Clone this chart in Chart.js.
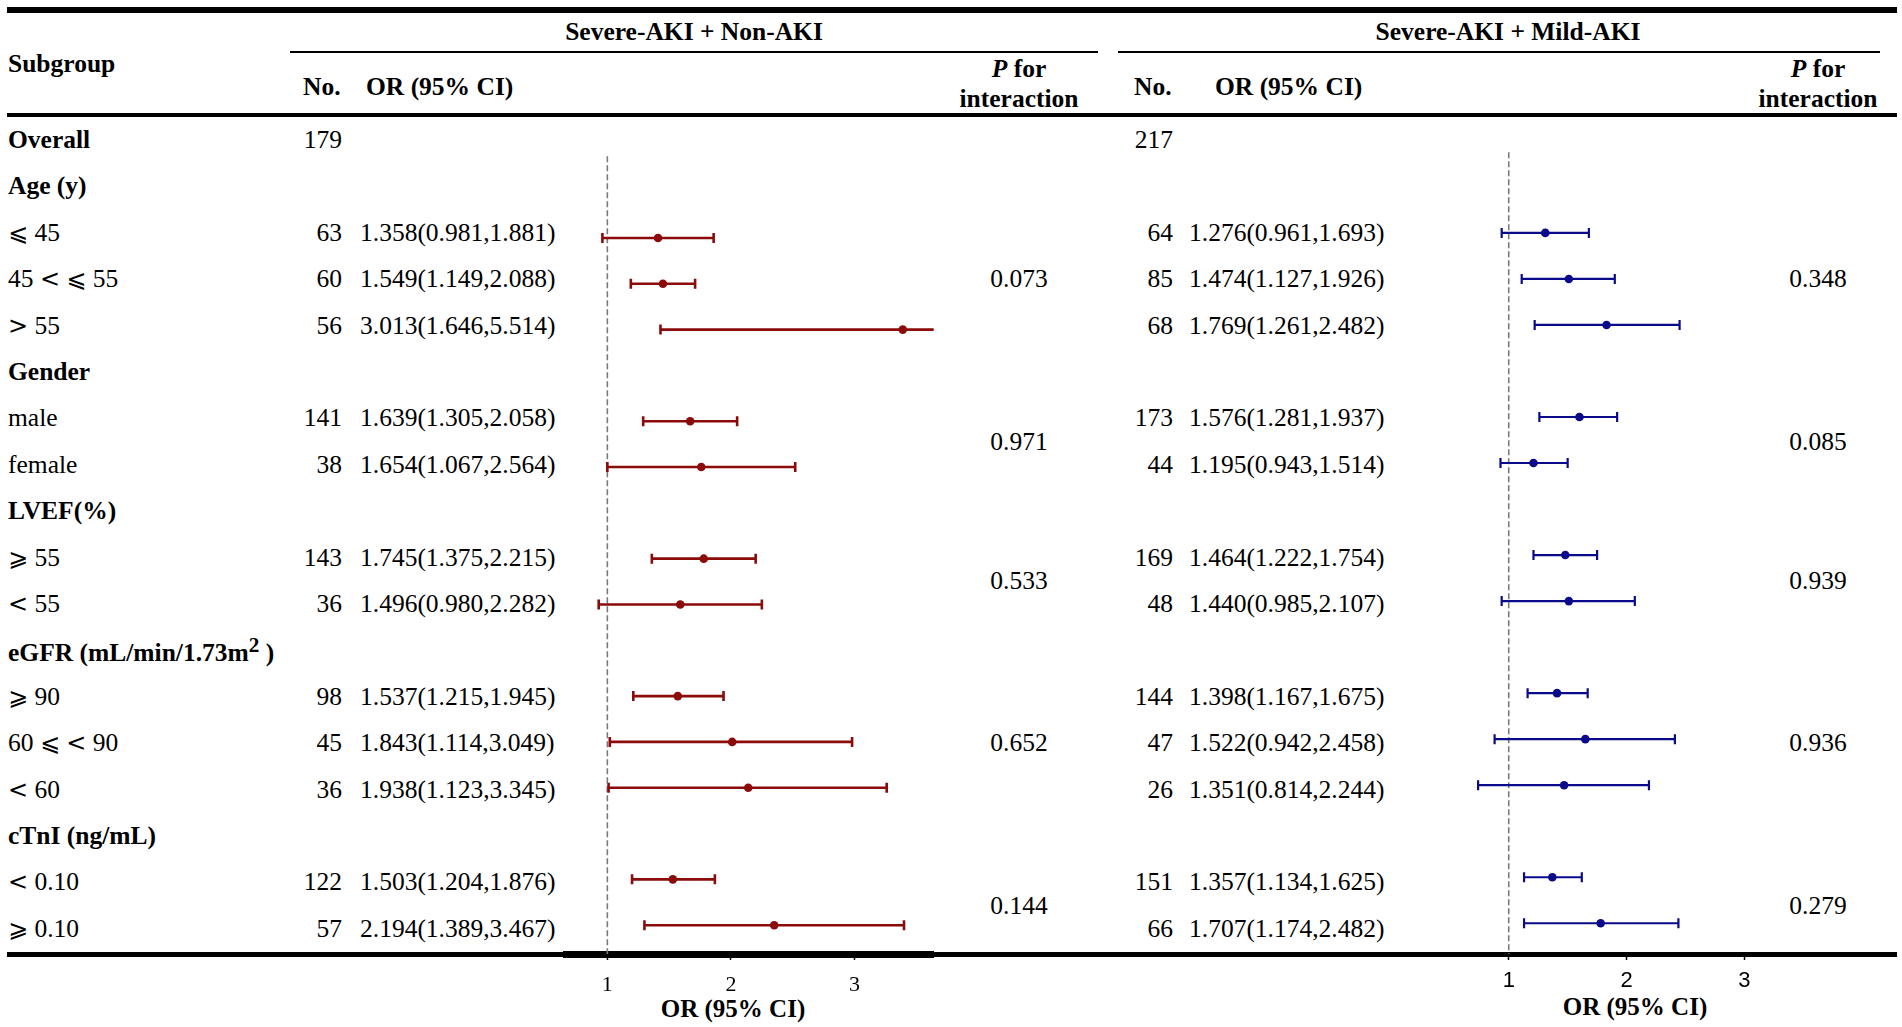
<!DOCTYPE html>
<html>
<head>
<meta charset="utf-8">
<title>Subgroup analysis: Severe-AKI vs Non-AKI and Mild-AKI</title>
<script src="https://cdn.jsdelivr.net/npm/chart.js@4.4.1/dist/chart.umd.min.js"></script>
<style>
  html, body { margin: 0; padding: 0; background: #fff; }
  #page { position: relative; width: 1902px; height: 1027px; overflow: hidden;
          font-family: "Liberation Serif", "Times New Roman", serif; color: #000; }
  .t { position: absolute; white-space: nowrap; line-height: 1; font-size: 25.5px; }
  .b { font-weight: bold; }
  .sym { font-family: "DejaVu Sans", sans-serif; font-size: 24px; }
  .rule { position: absolute; background: #000; }
  canvas { position: absolute; }
</style>
</head>
<body>
<div id="page"></div>
<script>
// table rows, top to bottom (^2 = superscript)
var subgroups = ['Overall', 'Age (y)', '⩽ 45', '45 < ⩽ 55', '> 55', 'Gender', 'male', 'female',
  'LVEF(%)', '⩾ 55', '< 55', 'eGFR (mL/min/1.73m^2 )', '⩾ 90', '60 ⩽ < 90', '< 60',
  'cTnI (ng/mL)', '< 0.10', '⩾ 0.10'];
var headerRows = [0, 1, 5, 8, 11, 15];

var nonAkiN = ['179', '', '63', '60', '56', '', '141', '38', '', '143', '36', '', '98', '45', '36', '', '122', '57'];
var nonAkiOR = ['', '', '1.358(0.981,1.881)', '1.549(1.149,2.088)', '3.013(1.646,5.514)', '',
  '1.639(1.305,2.058)', '1.654(1.067,2.564)', '', '1.745(1.375,2.215)', '1.496(0.980,2.282)', '',
  '1.537(1.215,1.945)', '1.843(1.114,3.049)', '1.938(1.123,3.345)', '', '1.503(1.204,1.876)', '2.194(1.389,3.467)'];
var mildAkiN = ['217', '', '64', '85', '68', '', '173', '44', '', '169', '48', '', '144', '47', '26', '', '151', '66'];
var mildAkiOR = ['', '', '1.276(0.961,1.693)', '1.474(1.127,1.926)', '1.769(1.261,2.482)', '',
  '1.576(1.281,1.937)', '1.195(0.943,1.514)', '', '1.464(1.222,1.754)', '1.440(0.985,2.107)', '',
  '1.398(1.167,1.675)', '1.522(0.942,2.458)', '1.351(0.814,2.244)', '', '1.357(1.134,1.625)', '1.707(1.174,2.482)'];

// P for interaction, one per group, at the group's middle row
var pRows = [3, 6.5, 9.5, 13, 16.5];
var nonAkiP = ['0.073', '0.971', '0.533', '0.652', '0.144'];
var mildAkiP = ['0.348', '0.085', '0.939', '0.936', '0.279'];

// plotted marks
var plotRows = [2, 3, 4, 6, 7, 9, 10, 12, 13, 14, 16, 17];
var nonAkiPt = [1.41, 1.45, 3.39, 1.67, 1.76, 1.78, 1.59, 1.57, 2.01, 2.14, 1.53, 2.35];
var nonAkiLo = [0.96, 1.19, 1.43, 1.29, 1.00, 1.36, 0.93, 1.21, 1.02, 1.01, 1.20, 1.30];
var nonAkiHi = [1.86, 1.71, 5.51, 2.05, 2.52, 2.20, 2.25, 1.94, 2.98, 3.26, 1.87, 3.40];
var mildAkiPt = [1.31, 1.51, 1.83, 1.60, 1.21, 1.48, 1.51, 1.41, 1.65, 1.47, 1.37, 1.78];
var mildAkiLo = [0.94, 1.11, 1.22, 1.26, 0.93, 1.21, 0.94, 1.16, 0.88, 0.74, 1.13, 1.13];
var mildAkiHi = [1.68, 1.90, 2.45, 1.92, 1.50, 1.75, 2.07, 1.67, 2.41, 2.19, 1.62, 2.44];
var axisTicks = [1, 2, 3];

var page = document.getElementById('page');
var ROW0 = 140, ROWSTEP = 46.4;   // text rows
function rowY(i) { return ROW0 + ROWSTEP * i; }

function esc(s) {
  return s.replace(/&/g, '&amp;').replace(/</g, '&lt;').replace(/>/g, '&gt;');
}
// comparison signs are wider in the original, take them from DejaVu
function labelHtml(s) {
  return esc(s)
    .replace(/&lt;|&gt;|⩽|⩾/g, function (m) { return '<span class="sym">' + m + '</span>'; })
    .replace(/\^(\w)/g, '<sup>$1</sup>');
}

function text(html, x, y, align, bold, size) {
  var d = document.createElement('div');
  d.className = 't' + (bold ? ' b' : '');
  d.innerHTML = html;
  d.style.left = x + 'px';
  d.style.top = y + 'px';
  if (size) d.style.fontSize = size + 'px';
  var tx = align === 'right' ? '-100%' : align === 'center' ? '-50%' : '0';
  d.style.transform = 'translate(' + tx + ',-50%)';
  page.appendChild(d);
}
function rule(x0, x1, y, h) {
  var d = document.createElement('div');
  d.className = 'rule';
  d.style.left = x0 + 'px';
  d.style.width = (x1 - x0) + 'px';
  d.style.top = (y - h / 2) + 'px';
  d.style.height = h + 'px';
  page.appendChild(d);
}

// table frame
rule(7, 1897, 10, 6);
rule(290, 1098, 52, 2);
rule(1118, 1880, 52, 2);
rule(7, 1897, 115, 3.5);
rule(7, 1897, 954.5, 5);

// header
text('Severe-AKI + Non-AKI', 694, 32, 'center', true);
text('Severe-AKI + Mild-AKI', 1508, 32, 'center', true);
text('Subgroup', 8, 64, 'left', true);
text('No.', 303, 87, 'left', true);
text('OR (95% CI)', 366, 87, 'left', true);
text('<i>P</i> for', 1019, 69, 'center', true);
text('interaction', 1019, 99, 'center', true);
text('No.', 1134, 87, 'left', true);
text('OR (95% CI)', 1215, 87, 'left', true);
text('<i>P</i> for', 1818, 69, 'center', true);
text('interaction', 1818, 99, 'center', true);

// body
subgroups.forEach(function (s, i) {
  var y = rowY(i);
  text(labelHtml(s), 8, y, 'left', headerRows.indexOf(i) >= 0);
  if (nonAkiN[i]) text(nonAkiN[i], 342, y, 'right');
  if (nonAkiOR[i]) text(nonAkiOR[i], 360, y, 'left');
  if (mildAkiN[i]) text(mildAkiN[i], 1173, y, 'right');
  if (mildAkiOR[i]) text(mildAkiOR[i], 1189, y, 'left');
});
pRows.forEach(function (r, k) {
  text(nonAkiP[k], 1019, rowY(r), 'center');
  text(mildAkiP[k], 1818, rowY(r), 'center');
});

// axis titles under each plot
text('OR (95% CI)', 733, 1008, 'center', true, 25);
text('OR (95% CI)', 1635, 1006, 'center', true, 25);

// dashed line at OR = 1
var refLine = {
  id: 'refLine',
  beforeDatasetsDraw: function (chart, args, o) {
    var ctx = chart.ctx, area = chart.chartArea;
    var x = chart.scales.x.getPixelForValue(o.value);
    ctx.save();
    ctx.strokeStyle = '#7a7a7a';
    ctx.lineWidth = 1.6;
    ctx.setLineDash([6, 3]);
    ctx.beginPath();
    ctx.moveTo(x, area.top);
    ctx.lineTo(x, area.bottom);
    ctx.stroke();
    ctx.restore();
  }
};

// confidence interval whiskers with end caps
var ciWhiskers = {
  id: 'ciWhiskers',
  beforeDatasetsDraw: function (chart, args, o) {
    var ctx = chart.ctx, xs = chart.scales.x, ys = chart.scales.y, area = chart.chartArea;
    ctx.save();
    ctx.beginPath();
    ctx.rect(area.left, area.top, area.right - area.left, area.bottom - area.top);
    ctx.clip();
    ctx.strokeStyle = o.color;
    ctx.lineWidth = o.width;
    for (var i = 0; i < o.rows.length; i++) {
      var y = ys.getPixelForValue(o.rows[i]);
      ctx.beginPath();
      ctx.moveTo(xs.getPixelForValue(o.lo[i]), y);
      ctx.lineTo(xs.getPixelForValue(o.hi[i]), y);
      // no cap where the interval runs past the axis
      [o.lo[i], o.hi[i]].forEach(function (v) {
        if (v < xs.min || v > xs.max) return;
        var x = xs.getPixelForValue(v);
        ctx.moveTo(x, y - o.cap);
        ctx.lineTo(x, y + o.cap);
      });
      ctx.stroke();
    }
    ctx.restore();
  }
};

var AXIS_Y = 954, AXIS_H = 1027 - AXIS_Y;

function forest(cfg) {
  var c = document.createElement('canvas');
  var w = cfg.right - cfg.left, h = 1027 - cfg.top;
  c.width = w; c.height = h;
  c.style.left = cfg.left + 'px';
  c.style.top = cfg.top + 'px';
  c.style.width = w + 'px';
  c.style.height = h + 'px';
  page.appendChild(c);

  // value range so that x=1 and the rows land where they should
  var xMin = 1 - (cfg.one - cfg.left) / cfg.unit;
  var xMax = xMin + w / cfg.unit;
  var yMin = (cfg.top - cfg.row0) / cfg.step;
  var yMax = (AXIS_Y - cfg.row0) / cfg.step;

  new Chart(c, {
    type: 'scatter',
    data: {
      datasets: [{
        data: plotRows.map(function (r, i) { return { x: cfg.pt[i], y: r }; }),
        pointRadius: 4.3,
        pointHoverRadius: 4.3,
        pointBorderWidth: 0,
        pointBackgroundColor: cfg.color
      }]
    },
    options: {
      responsive: false,
      animation: false,
      events: [],
      layout: { padding: 0 },
      plugins: {
        legend: { display: false },
        tooltip: { enabled: false },
        refLine: { value: 1 },
        ciWhiskers: { rows: plotRows, lo: cfg.lo, hi: cfg.hi, color: cfg.color, width: cfg.lineWidth, cap: 5 }
      },
      scales: {
        x: {
          type: 'linear',
          min: xMin,
          max: xMax,
          afterBuildTicks: function (s) { s.ticks = axisTicks.map(function (v) { return { value: v }; }); },
          afterFit: function (s) { s.height = AXIS_H; },
          grid: { display: true, drawOnChartArea: false, drawTicks: true, tickLength: 6, tickColor: '#000', tickWidth: 1.5 },
          border: { display: true, color: '#000', width: cfg.axisWidth },
          ticks: { color: '#000', font: { family: cfg.tickFont, size: 22 }, padding: cfg.tickPad, autoSkip: false, maxRotation: 0 },
          title: { display: false }
        },
        y: { type: 'linear', display: false, reverse: true, min: yMin, max: yMax }
      }
    },
    plugins: [refLine, ciWhiskers]
  });
}

forest({
  left: 562, right: 938, top: 152, one: 604, unit: 126.5,
  row0: 142, step: 46.06,
  pt: nonAkiPt, lo: nonAkiLo, hi: nonAkiHi,
  color: '#8b0a0a', lineWidth: 2.6, axisWidth: 7,
  tickFont: 'Liberation Serif', tickPad: 12
});
forest({
  left: 1420, right: 1895, top: 148, one: 1506, unit: 120,
  row0: 136.5, step: 46.27,
  pt: mildAkiPt, lo: mildAkiLo, hi: mildAkiHi,
  color: '#0a0a8b', lineWidth: 2.2, axisWidth: 5,
  tickFont: 'Liberation Sans', tickPad: 8
});
</script>
</body>
</html>
